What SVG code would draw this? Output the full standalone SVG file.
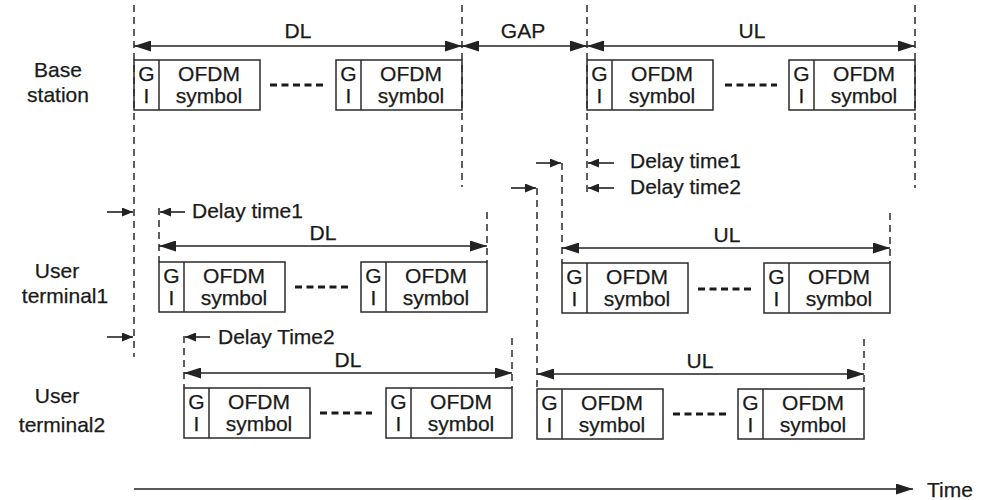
<svg xmlns="http://www.w3.org/2000/svg" width="989" height="500" viewBox="0 0 989 500">
<style>
text{font-family:"Liberation Sans",Arial,sans-serif;font-size:21px;fill:#1a1a1a;stroke:#1a1a1a;stroke-width:0.25}
.c{text-anchor:middle}
.box{fill:none;stroke:#2a2a2a;stroke-width:1.5}
.dash{stroke:#2a2a2a;stroke-width:1.5;stroke-dasharray:7 5;fill:none}
.dim{stroke:#222;stroke-width:1.6;fill:none;marker-start:url(#ah);marker-end:url(#ah)}
.one{stroke:#222;stroke-width:1.6;fill:none;marker-end:url(#ah)}
.sm{stroke:#222;stroke-width:1.6;fill:none;marker-end:url(#sa)}
.dots{stroke:#1a1a1a;stroke-width:3.2;stroke-dasharray:7 4.5;fill:none}
</style>
<defs>
<marker id="ah" markerUnits="userSpaceOnUse" markerWidth="17" markerHeight="11" refX="17" refY="5.5" orient="auto-start-reverse"><path d="M0,0 L17,5.5 L0,11 z" fill="#222"/></marker>
<marker id="sa" markerUnits="userSpaceOnUse" markerWidth="11" markerHeight="9" refX="11" refY="4.5" orient="auto"><path d="M0,0 L11,4.5 L0,9 z" fill="#222"/></marker>
<g id="sym">
<rect class="box" x="0" y="0" width="126" height="50"/>
<line class="box" x1="25" y1="0" x2="25" y2="50"/>
<text class="c" x="12.5" y="21" font-size="20">G</text>
<text class="c" x="12.5" y="43" font-size="20">I</text>
<text class="c" x="75" y="21">OFDM</text>
<text class="c" x="75" y="43">symbol</text>
</g>
</defs>
<rect width="989" height="500" fill="#fff"/>

<g id="labels">
<text class="c" x="58" y="77">Base</text>
<text class="c" x="58" y="102">station</text>
<text class="c" x="57" y="278">User</text>
<text class="c" x="65" y="303">terminal1</text>
<text class="c" x="57" y="403">User</text>
<text class="c" x="62" y="432">terminal2</text>
</g>

<g id="connectors">
<line class="dash" x1="134" y1="5" x2="134" y2="357"/>
<line class="dash" x1="462" y1="5" x2="462" y2="187"/>
<line class="dash" x1="587" y1="5" x2="587" y2="192"/>
<line class="dash" x1="915" y1="5" x2="915" y2="188"/>
<line class="dash" x1="159" y1="208" x2="159" y2="262"/>
<line class="dash" x1="487" y1="212" x2="487" y2="262"/>
<line class="dash" x1="562" y1="163" x2="562" y2="263"/>
<line class="dash" x1="890" y1="213" x2="890" y2="263"/>
<line class="dash" x1="184" y1="336" x2="184" y2="388"/>
<line class="dash" x1="512" y1="338" x2="512" y2="388"/>
<line class="dash" x1="537" y1="188" x2="537" y2="389"/>
<line class="dash" x1="864" y1="339" x2="864" y2="389"/>
<line class="dim" x1="134" y1="46" x2="462" y2="46"/>
<line class="dim" x1="462" y1="46" x2="587" y2="46"/>
<line class="dim" x1="587" y1="46" x2="915" y2="46"/>
<line class="dim" x1="159" y1="246" x2="487" y2="246"/>
<line class="dim" x1="562" y1="248" x2="890" y2="248"/>
<line class="dim" x1="184" y1="373" x2="512" y2="373"/>
<line class="dim" x1="537" y1="374" x2="864" y2="374"/>
<line class="sm" x1="107" y1="212" x2="133" y2="212"/>
<line class="sm" x1="185" y1="212" x2="160" y2="212"/>
<line class="sm" x1="107" y1="337" x2="133" y2="337"/>
<line class="sm" x1="210" y1="337" x2="185" y2="337"/>
<line class="sm" x1="536" y1="163" x2="561" y2="163"/>
<line class="sm" x1="614" y1="163" x2="588" y2="163"/>
<line class="sm" x1="511" y1="188" x2="536" y2="188"/>
<line class="sm" x1="614" y1="188" x2="588" y2="188"/>
<line class="one" x1="134" y1="489" x2="913" y2="489"/>
</g>

<g id="dim-labels">
<text class="c" x="298" y="38">DL</text>
<text class="c" x="523" y="38">GAP</text>
<text class="c" x="752" y="38">UL</text>
<text class="c" x="323" y="240">DL</text>
<text class="c" x="727" y="242">UL</text>
<text class="c" x="348" y="367">DL</text>
<text class="c" x="700" y="368">UL</text>
<text x="630" y="168">Delay time1</text>
<text x="630" y="194">Delay time2</text>
<text x="192" y="218">Delay time1</text>
<text x="218" y="344">Delay Time2</text>
<text x="927" y="497" font-size="24">Time</text>
</g>

<g id="base-station">
<use href="#sym" x="134" y="60"/>
<line class="dots" x1="270" y1="85" x2="323" y2="85"/>
<use href="#sym" x="336" y="60"/>
<use href="#sym" x="587" y="60"/>
<line class="dots" x1="725" y1="85" x2="777" y2="85"/>
<use href="#sym" x="789" y="60"/>
</g>

<g id="user-terminal1">
<use href="#sym" x="159" y="262"/>
<line class="dots" x1="295" y1="287" x2="348" y2="287"/>
<use href="#sym" x="361" y="262"/>
<use href="#sym" x="562" y="263"/>
<line class="dots" x1="698" y1="289" x2="752" y2="289"/>
<use href="#sym" x="764" y="263"/>
</g>

<g id="user-terminal2">
<use href="#sym" x="184" y="388"/>
<line class="dots" x1="320" y1="413" x2="372" y2="413"/>
<use href="#sym" x="386" y="388"/>
<use href="#sym" x="537" y="389"/>
<line class="dots" x1="673" y1="414" x2="727" y2="414"/>
<use href="#sym" x="738" y="389"/>
</g>
</svg>
